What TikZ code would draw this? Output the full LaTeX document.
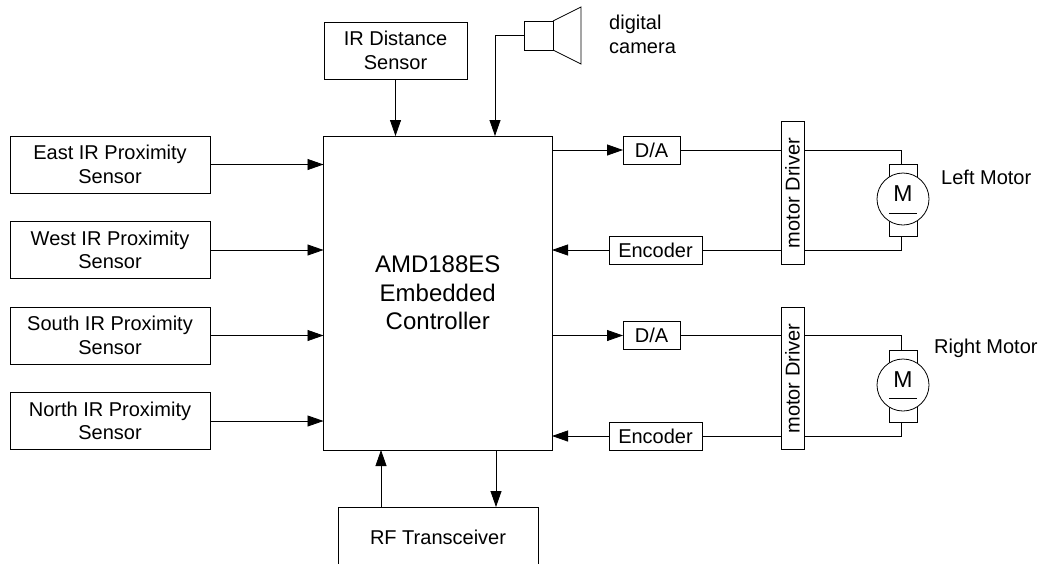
\documentclass[tikz,border=0pt]{standalone}
\usepackage{fontspec}
\setmainfont{Liberation Sans}
\usetikzlibrary{arrows.meta, positioning, calc}

\begin{document}
\begin{tikzpicture}[
    x=1pt, y=-1pt,
    block/.style={rectangle, draw, line width=0.8pt, inner sep=0pt, outer sep=0pt, align=center, font=\fontsize{20}{23.5}\selectfont},
    sensor/.style={block, minimum width=200pt, minimum height=57pt},
    small/.style={block, minimum height=28pt},
    driver/.style={block, minimum width=142.5pt, minimum height=23pt},
    brush/.style={block, minimum width=28pt, minimum height=72pt},
    motor/.style={circle, draw, fill=white, line width=0.8pt, inner sep=0pt, outer sep=0pt, minimum size=52pt, font=\fontsize{23}{24}\selectfont},
    caption/.style={inner sep=0pt, align=left, anchor=west, font=\fontsize{20}{23.5}\selectfont},
    arrow/.style={-{Triangle[length=16pt, width=11pt]}, line width=0.8pt},
    wire/.style={line width=0.8pt}
]
\useasboundingbox (0,0) rectangle (1041,563);
\clip (0,0) rectangle (1041,563);

% Controller
\node[block, minimum width=228.5pt, minimum height=314pt, font=\fontsize{24}{28.5}\selectfont] (ctrl) at (437.75,293) {AMD188ES\\Embedded\\Controller};

% Sensors
\node[sensor] (east) at (110,164.5) {East IR Proximity\\Sensor};
\node[sensor, below=28.5pt of east] (west) {West IR Proximity\\Sensor};
\node[sensor, below=28.5pt of west] (south) {South IR Proximity\\Sensor};
\node[sensor, below=28.5pt of south] (north) {North IR Proximity\\Sensor};
\node[block, minimum width=143pt, minimum height=57pt] (dist) at (395.5,50.5) {IR Distance\\Sensor};

% Camera
\node[block, minimum width=29pt, minimum height=29pt] (cam) at (538.5,35.5) {};
\coordinate (camwire) at (495,35.5);
\node[caption] (camtxt) at (609,34.5) {digital\\camera};
\draw[wire] (cam.north east) -- ++(28,-14) -- ++(0,57) -- (cam.south east);

% RF box runs off the page
\node[block, minimum width=200pt, minimum height=64pt] (rf) at (438,539) {\raisebox{4pt}{RF Transceiver}};

% Left motor channel
\node[small, minimum width=57pt] (da1) at (651.5,150) {D/A};
\node[small, minimum width=93pt] (enc1) at (655.5,250) {Encoder};
\node[driver, rotate=90] (drv1) at (792.5,193) {motor Driver};
\node[brush] (br1) at (903,200) {};
\node[motor] (m1) at (903,199) {\raisebox{10pt}{M}};
\coordinate (top1) at (901,150);
\coordinate (bot1) at (901,250);
\node[caption] (lbl1) at (941,177) {Left Motor};

% Right motor channel
\node[small, minimum width=57pt] (da2) at (651.5,335.5) {D/A};
\node[small, minimum width=93pt] (enc2) at (655.5,436) {Encoder};
\node[driver, rotate=90] (drv2) at (792.5,378.5) {motor Driver};
\node[brush] (br2) at (903,386) {};
\node[motor] (m2) at (903,385) {\raisebox{10pt}{M}};
\coordinate (top2) at (901,335.5);
\coordinate (bot2) at (901,436);
\node[caption] (lbl2) at (934,348) {Right Motor};

% Inputs
\draw[arrow] (east) -- (east -| ctrl.west);
\draw[arrow] (west) -- (west -| ctrl.west);
\draw[arrow] (south) -- (south -| ctrl.west);
\draw[arrow] (north) -- (north -| ctrl.west);
\draw[arrow] (dist) -- (dist |- ctrl.north);
\draw[arrow] (cam.west) -- (camwire) -- (camwire |- ctrl.north);

% RF link
\draw[arrow] (rf.north -| 381,0) -- (ctrl.south -| 381,0);
\draw[arrow] (ctrl.south -| 496,0) -- (rf.north -| 496,0);

% Outputs
\draw[arrow] (da1 -| ctrl.east) -- (da1);
\draw[arrow] (enc1) -- (enc1 -| ctrl.east);
\draw[arrow] (da2 -| ctrl.east) -- (da2);
\draw[arrow] (enc2) -- (enc2 -| ctrl.east);
\draw[wire] (da1) -- (da1 -| drv1.north);
\draw[wire] (enc1) -- (enc1 -| drv1.north);
\draw[wire] (da2) -- (da2 -| drv2.north);
\draw[wire] (enc2) -- (enc2 -| drv2.north);

% Motor wires
\draw[wire] (top1 -| drv1.south) -- (top1) -- (top1 |- br1.north);
\draw[wire] (bot1 -| drv1.south) -- (bot1) -- (bot1 |- br1.south);
\draw[wire] (top2 -| drv2.south) -- (top2) -- (top2 |- br2.north);
\draw[wire] (bot2 -| drv2.south) -- (bot2) -- (bot2 |- br2.south);
\draw[wire] ($(br1.west)+(0,13)$) -- ($(br1.east)+(0,13)$);
\draw[wire] ($(br2.west)+(0,12)$) -- ($(br2.east)+(0,12)$);

\end{tikzpicture}
\end{document}
